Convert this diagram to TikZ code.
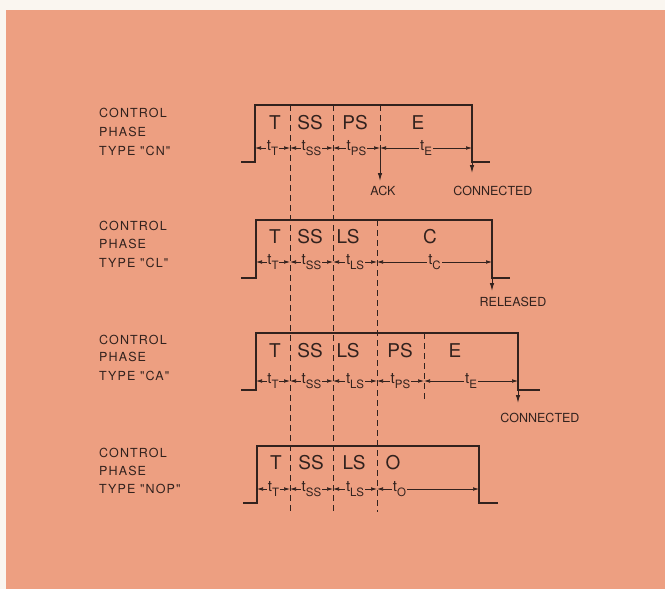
\documentclass[tikz,border=0pt]{standalone}
\usepackage{fontspec}
\setmainfont{TeX Gyre Heros}
\newfontfamily\spacedfont[LetterSpace=9]{TeX Gyre Heros}
\usetikzlibrary{arrows.meta}
\definecolor{bg}{RGB}{237,159,129}
\definecolor{paper}{RGB}{250,246,240}
\definecolor{ink}{RGB}{50,34,30}
\newcommand\tsub[1]{t\raisebox{-0.33em}{\fontsize{11.5}{11.5}\selectfont #1}}
\tikzset{
  sig/.style={draw=ink, line width=1.5pt},
  dim/.style={draw=ink, line width=0.6pt, {Latex[length=6pt,width=3.6pt]}-{Latex[length=6pt,width=3.6pt]}},
  sep/.style={draw=ink, line width=0.8pt, dash pattern=on 6pt off 4pt},
  outarr/.style={draw=ink, line width=1pt, -{Latex[length=8pt,width=4.5pt]}},
  big/.style={text=ink, font=\fontsize{19}{19}\selectfont, inner sep=0pt},
  tl/.style={text=ink, font=\fontsize{15}{15}\selectfont, fill=bg, inner sep=0.8pt},
  side/.style={text=ink, font=\spacedfont\fontsize{12.5}{12.5}\selectfont, anchor=west, inner sep=0pt},
  evt/.style={text=ink, font=\fontsize{12.5}{12.5}\selectfont, inner sep=0pt},
}
\begin{document}
\begin{tikzpicture}[x=1pt,y=-1pt]
\useasboundingbox (0,0) rectangle (665,589);
\fill[paper] (0,0) rectangle (665,589);
\fill[bg] (6,10) rectangle (665,589);

% long dashed separators
\coordinate (s1t) at (290,105); \coordinate (s1b) at (290,512);
\coordinate (s2t) at (333,105); \coordinate (s2b) at (333,512);
\coordinate (s3t) at (377,220); \coordinate (s3b) at (377,512);
\draw[sep] (s1t) -- (s1b);
\draw[sep] (s2t) -- (s2b);
\draw[sep] (s3t) -- (s3b);

% ---------------- Diagram 1 (CN)
\node[side] (l1a) at (99,113) {CONTROL};
\node[side] (l1b) at (99,132) {PHASE};
\node[side] (l1c) at (99,151) {TYPE "CN"};
\coordinate (a0) at (241,162); \coordinate (a1) at (255,162);
\coordinate (a2) at (255,105); \coordinate (a3) at (472,105);
\coordinate (a4) at (472,162); \coordinate (a5) at (490,162);
\draw[sig] (a0) -- (a1) -- (a2) -- (a3) -- (a4) -- (a5);
\coordinate (a6t) at (380,105); \coordinate (a6b) at (380,148);
\draw[sep] (a6t) -- (a6b);
\node[big] (n1T) at (275,123) {T};
\node[big] (n1SS) at (310,123) {SS};
\node[big] (n1PS) at (355,123) {PS};
\node[big] (n1E) at (418,123) {E};
\coordinate (r1a) at (255,148); \coordinate (r1b) at (290,148);
\coordinate (r1c) at (333,148); \coordinate (r1d) at (380,148);
\coordinate (r1e) at (472,148);
\draw[dim] (r1a) -- node[tl] {\tsub{T}} (r1b);
\draw[dim] (r1b) -- node[tl] {\tsub{SS}} (r1c);
\draw[dim] (r1c) -- node[tl] {\tsub{PS}} (r1d);
\draw[dim] (r1d) -- node[tl] {\tsub{E}} (r1e);
\node[evt] (ack) at (383,191) {ACK};
\node[evt] (con1) at (493,191) {CONNECTED};
\coordinate (ackt) at (380,181);
\coordinate (con1t) at (472,173);
\draw[outarr] (r1d) -- (ackt);
\draw[outarr] (a4) -- (con1t);

% ---------------- Diagram 2 (CL)
\node[side] (l2a) at (99,226) {CONTROL};
\node[side] (l2b) at (99,244) {PHASE};
\node[side] (l2c) at (99,263) {TYPE "CL"};
\coordinate (b0) at (241,278); \coordinate (b1) at (256,278);
\coordinate (b2) at (256,220); \coordinate (b3) at (492,220);
\coordinate (b4) at (492,278); \coordinate (b5) at (510,278);
\draw[sig] (b0) -- (b1) -- (b2) -- (b3) -- (b4) -- (b5);
\node[big] (n2T) at (275,237) {T};
\node[big] (n2SS) at (310,237) {SS};
\node[big] (n2LS) at (348,237) {LS};
\node[big] (n2C) at (430,237) {C};
\coordinate (r2a) at (256,262); \coordinate (r2b) at (290,262);
\coordinate (r2c) at (333,262); \coordinate (r2d) at (377,262);
\coordinate (r2e) at (492,262);
\draw[dim] (r2a) -- node[tl] {\tsub{T}} (r2b);
\draw[dim] (r2b) -- node[tl] {\tsub{SS}} (r2c);
\draw[dim] (r2c) -- node[tl] {\tsub{LS}} (r2d);
\draw[dim] (r2d) -- node[tl] {\tsub{C}} (r2e);
\node[evt] (rel) at (513,302) {RELEASED};
\coordinate (relt) at (492,291);
\draw[outarr] (b4) -- (relt);

% ---------------- Diagram 3 (CA)
\node[side] (l3a) at (99,340) {CONTROL};
\node[side] (l3b) at (99,357) {PHASE};
\node[side] (l3c) at (99,376) {TYPE "CA"};
\coordinate (c0) at (241,390); \coordinate (c1) at (256,390);
\coordinate (c2) at (256,333); \coordinate (c3) at (518,333);
\coordinate (c4) at (518,390); \coordinate (c5) at (540,390);
\draw[sig] (c0) -- (c1) -- (c2) -- (c3) -- (c4) -- (c5);
\coordinate (c6t) at (424,333); \coordinate (c6b) at (424,399);
\draw[sep] (c6t) -- (c6b);
\node[big] (n3T) at (275,351) {T};
\node[big] (n3SS) at (310,351) {SS};
\node[big] (n3LS) at (348,351) {LS};
\node[big] (n3PS) at (400,351) {PS};
\node[big] (n3E) at (455,351) {E};
\coordinate (r3a) at (256,381); \coordinate (r3b) at (290,381);
\coordinate (r3c) at (333,381); \coordinate (r3d) at (377,381);
\coordinate (r3e) at (424,381); \coordinate (r3f) at (518,381);
\draw[dim] (r3a) -- node[tl] {\tsub{T}} (r3b);
\draw[dim] (r3b) -- node[tl] {\tsub{SS}} (r3c);
\draw[dim] (r3c) -- node[tl] {\tsub{LS}} (r3d);
\draw[dim] (r3d) -- node[tl] {\tsub{PS}} (r3e);
\draw[dim] (r3e) -- node[tl] {\tsub{E}} (r3f);
\node[evt] (con3) at (540,418) {CONNECTED};
\coordinate (con3t) at (518,403);
\draw[outarr] (c4) -- (con3t);

% ---------------- Diagram 4 (NOP)
\node[side] (l4a) at (99,453) {CONTROL};
\node[side] (l4b) at (99,471) {PHASE};
\node[side] (l4c) at (99,489) {TYPE "NOP"};
\coordinate (d0) at (243,503); \coordinate (d1) at (257,503);
\coordinate (d2) at (257,446); \coordinate (d3) at (479,446);
\coordinate (d4) at (479,503); \coordinate (d5) at (498,503);
\draw[sig] (d0) -- (d1) -- (d2) -- (d3) -- (d4) -- (d5);
\node[big] (n4T) at (276,463) {T};
\node[big] (n4SS) at (311,463) {SS};
\node[big] (n4LS) at (354,463) {LS};
\node[big] (n4O) at (393,463) {O};
\coordinate (r4a) at (257,489); \coordinate (r4b) at (290,489);
\coordinate (r4c) at (333,489); \coordinate (r4d) at (377,489);
\coordinate (r4e) at (479,489);
\draw[dim] (r4a) -- node[tl] {\tsub{T}} (r4b);
\draw[dim] (r4b) -- node[tl] {\tsub{SS}} (r4c);
\draw[dim] (r4c) -- node[tl] {\tsub{LS}} (r4d);
\draw[dim] (r4d) -- node[tl, pos=0.22] {\tsub{O}} (r4e);
\end{tikzpicture}
\end{document}
